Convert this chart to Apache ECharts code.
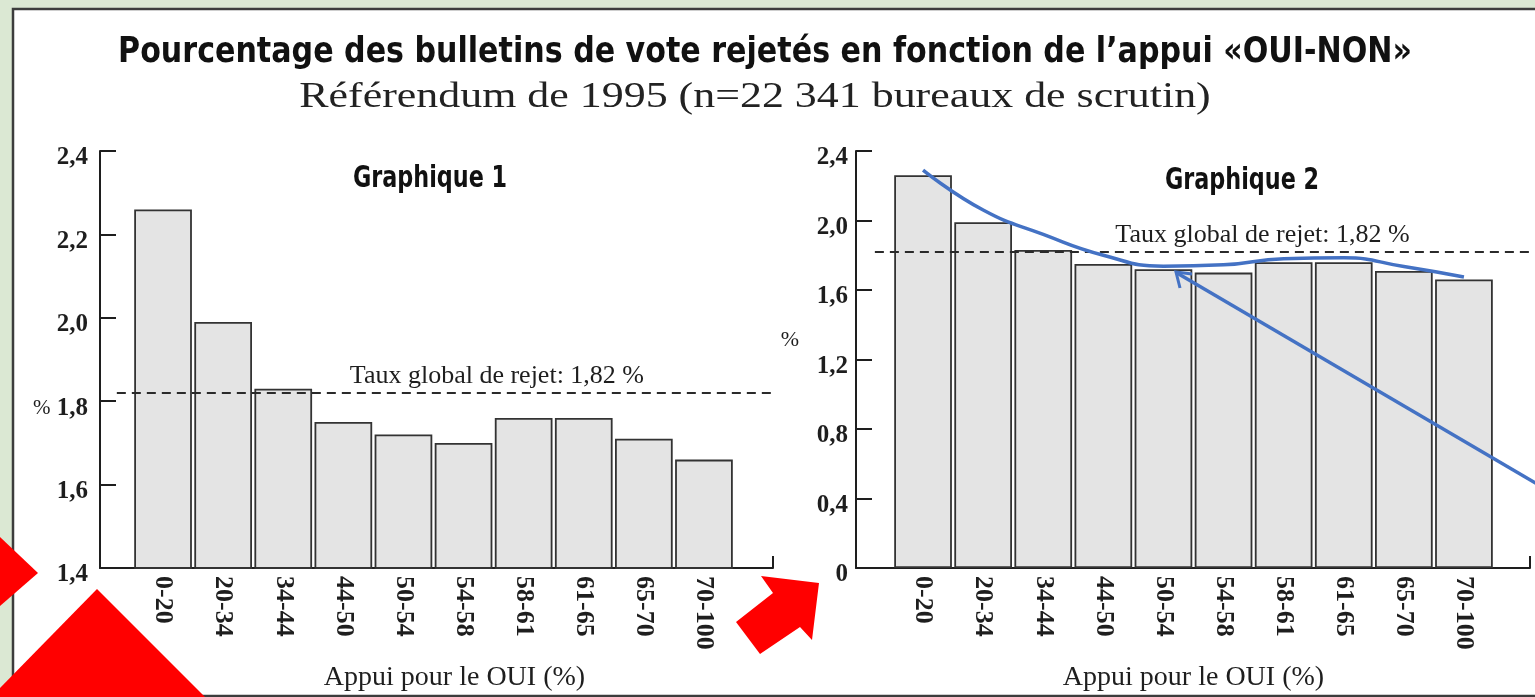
<!DOCTYPE html>
<html>
<head>
<meta charset="utf-8">
<script src="https://cdn.jsdelivr.net/npm/echarts@6/dist/echarts.min.js"></script>
<style>
html,body{margin:0;padding:0;background:#dbe8d3;}
#chart{width:1535px;height:697px;}
</style>
</head>
<body>
<div id="chart"></div>
<script>
// ---- data ----
const categories = ['0-20','20-34','34-44','44-50','50-54','54-58','58-61','61-65','65-70','70-100'];
const rejectRate = [2.26, 1.99, 1.83, 1.75, 1.72, 1.70, 1.76, 1.76, 1.71, 1.66];
const globalRate = 1.82;
const trendAnnotation = [2.29, 2.06, 1.92, 1.80, 1.737, 1.745, 1.78, 1.785, 1.735, 1.675];
const chart1Range = [1.4, 2.4, 0.2];
const chart2Range = [0, 2.4, 0.4];
const mainTitle = 'Pourcentage des bulletins de vote rejetés en fonction de l\u2019appui \u00abOUI-NON\u00bb';
const subTitle = 'Référendum de 1995 (n=22 341 bureaux de scrutin)';
const panelTitles = ['Graphique 1', 'Graphique 2'];
const xName = 'Appui pour le OUI (%)';
const refLabel = 'Taux global de rejet: 1,82 %';
const yUnit = '%';

const SERIF = '"Liberation Serif","DejaVu Serif",serif';
const NARROW = '"Liberation Sans Narrow","DejaVu Sans Condensed","Roboto Condensed",sans-serif';
const INK = '#1e1e1e';

function fmt(v){ return v === 0 ? '0' : v.toFixed(1).replace('.', ','); }

function axisGridPair(gA, gB, range, isFirst){
  const [mn, mx, step] = range;
  return {
    xAxes: [
      { gridIndex: gA, type: 'value', min: 0, max: 1, interval: 1,
        axisLine: {show: true, lineStyle: {color: INK, width: 2}},
        axisTick: {show: true, inside: true, length: 12, lineStyle: {color: INK, width: 2}},
        axisLabel: {show: false}, splitLine: {show: false} },
      { gridIndex: gB, type: 'category', data: categories,
        axisLine: {show: false}, axisTick: {show: false},
        axisLabel: {rotate: -90, margin: 8, interval: 0, color: INK,
          fontFamily: SERIF, fontWeight: 'bold', fontSize: 26},
        name: xName, nameLocation: 'middle', nameGap: 96,
        nameTextStyle: {fontFamily: SERIF, fontSize: 28, color: INK,
          padding: isFirst ? [0,0,0,42] : [0,0,0,0]} }
    ],
    yAxes: [
      { gridIndex: gA, type: 'value', min: mn, max: mx, interval: step,
        axisLine: {show: true, lineStyle: {color: INK, width: 2}},
        axisTick: {show: true, inside: true, length: 16, lineStyle: {color: INK, width: 2}},
        splitLine: {show: false},
        axisLabel: {margin: isFirst ? 12 : 8, color: INK, fontFamily: SERIF, fontWeight: 'bold',
          fontSize: 25, verticalAlign: 'middle', padding: [14,0,0,0],
          formatter: function(v){
            const s = fmt(v);
            if (isFirst && Math.abs(v - 1.8) < 1e-9) return '{p|' + yUnit + '} ' + s;
            return s;
          },
          rich: {p: {fontFamily: SERIF, fontSize: 21, fontWeight: 'normal', color: INK}}
        } },
      { gridIndex: gB, type: 'value', min: mn, max: mx, interval: step, show: false }
    ]
  };
}

const p1 = axisGridPair(0, 1, chart1Range, true);
const p2 = axisGridPair(2, 3, chart2Range, false);

const xAxis = [...p1.xAxes, ...p2.xAxes];
const yAxis = [...p1.yAxes, ...p2.yAxes];

function barSeries(xi, yi){
  return {
    type: 'bar', xAxisIndex: xi, yAxisIndex: yi, data: rejectRate,
    barCategoryGap: '4%',
    itemStyle: {color: '#e4e4e4', borderColor: '#333333', borderWidth: 1.8},
    z: 1
  };
}
function refSeries(xi, yi, startX, labelOffset){
  return {
    type: 'line', xAxisIndex: xi, yAxisIndex: yi, data: [], silent: true,
    markLine: {
      silent: true, symbol: ['none','none'],
      lineStyle: {color: '#2a2a2a', width: 2, type: [9,6]},
      label: {show: true, position: 'middle', formatter: refLabel, fontFamily: SERIF,
        fontSize: 26, color: INK, distance: 4, offset: labelOffset},
      data: [[{coord: [startX, globalRate]}, {coord: [1, globalRate]}]]
    },
    z: 3
  };
}

const series = [
  barSeries(1, 1),
  refSeries(0, 0, 0.025, [52, 0]),
  barSeries(3, 3),
  refSeries(2, 2, 0.028, [60, 0]),
  { type: 'line', xAxisIndex: 3, yAxisIndex: 3, data: trendAnnotation, smooth: true,
    showSymbol: false, lineStyle: {color: '#4472c4', width: 3.5}, z: 5 }
];

const chart = echarts.init(document.getElementById('chart'), null, {renderer: 'canvas'});
chart.setOption({
  animation: false,
  backgroundColor: 'transparent',
  grid: [
    {left: 100, top: 151, width: 673, height: 417},
    {left: 133, top: 151, width: 601, height: 417},
    {left: 856, top: 151, width: 674, height: 417},
    {left: 893, top: 151, width: 601, height: 417}
  ],
  xAxis: xAxis,
  yAxis: yAxis,
  series: series,
  graphic: [
    {type: 'rect', z: -10, silent: true, shape: {x: 13, y: 9, width: 1540, height: 687},
      style: {fill: '#ffffff', stroke: '#3c3c3c', lineWidth: 2.5}},
    {type: 'text', x: 765, y: 35, scaleX: 0.93, silent: true,
      style: {text: mainTitle, align: 'center', verticalAlign: 'top', fill: '#111',
        font: 'bold 36px ' + NARROW}},
    {type: 'text', x: 755, y: 80, scaleX: 1.22, silent: true,
      style: {text: subTitle, align: 'center', verticalAlign: 'top', fill: '#222',
        font: '36px ' + SERIF}},
    {type: 'text', x: 430, y: 163, scaleX: 0.8, silent: true,
      style: {text: panelTitles[0], align: 'center', verticalAlign: 'top', fill: '#111',
        font: 'bold 31px ' + NARROW}},
    {type: 'text', x: 1242, y: 165, scaleX: 0.8, silent: true,
      style: {text: panelTitles[1], align: 'center', verticalAlign: 'top', fill: '#111',
        font: 'bold 31px ' + NARROW}},
    {type: 'text', x: 790, y: 340, silent: true,
      style: {text: yUnit, align: 'center', verticalAlign: 'middle', fill: INK,
        font: '22px ' + SERIF}},
    // annotations drawn over the scan
    {type: 'line', z: 50, silent: true, shape: {x1: 1537, y1: 484, x2: 1177, y2: 273},
      style: {stroke: '#4472c4', lineWidth: 3.5}},
    {type: 'polyline', z: 50, silent: true, shape: {points: [[1180, 288], [1176, 272], [1192, 274]]},
      style: {stroke: '#4472c4', lineWidth: 3, fill: null}},
    {type: 'polygon', z: 60, silent: true, shape: {points: [[0, 537], [38, 573], [0, 606]]},
      style: {fill: '#ff0000'}},
    {type: 'polygon', z: 60, silent: true, shape: {points: [[97, 589], [205, 697], [0, 697], [0, 688]]},
      style: {fill: '#ff0000'}},
    {type: 'polygon', z: 60, silent: true,
      shape: {points: [[736, 622], [773, 593], [761, 576], [819, 583], [812, 640], [800, 627], [760, 654]]},
      style: {fill: '#ff0000'}}
  ]
});
</script>
</body>
</html>
